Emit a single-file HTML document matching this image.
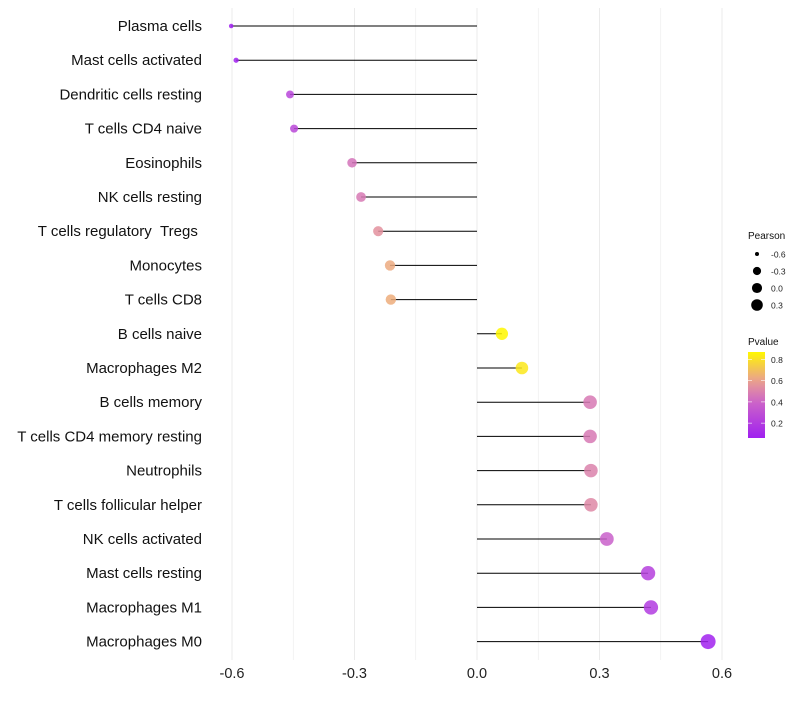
<!DOCTYPE html>
<html><head><meta charset="utf-8"><style>
body{margin:0;background:#fff;font-family:"Liberation Sans",sans-serif}
svg text{font-family:"Liberation Sans",sans-serif}
</style></head><body>
<svg id="c" width="800" height="700"></svg>
<script>
const categories=["Plasma cells","Mast cells activated","Dendritic cells resting","T cells CD4 naive","Eosinophils","NK cells resting","T cells regulatory\u00a0\u00a0Tregs\u00a0","Monocytes","T cells CD8","B cells naive","Macrophages M2","B cells memory","T cells CD4 memory resting","Neutrophils","T cells follicular helper","NK cells activated","Mast cells resting","Macrophages M1","Macrophages M0"];
const pearson=[-0.602,-0.59,-0.458,-0.448,-0.306,-0.284,-0.242,-0.213,-0.211,0.061,0.110,0.277,0.277,0.279,0.279,0.318,0.419,0.426,0.566];
const pvalue=[0.06,0.07,0.25,0.26,0.45,0.47,0.55,0.63,0.64,0.87,0.82,0.47,0.47,0.5,0.52,0.38,0.22,0.2,0.07];
const xTicks=[-0.6,-0.3,0,0.3,0.6];
const sizeTicks=[-0.6,-0.3,0.0,0.3];
const pTicks=[0.2,0.4,0.6,0.8];
const NS="http://www.w3.org/2000/svg",svg=document.getElementById('c');
function el(t,a,p){const e=document.createElementNS(NS,t);for(const k in a)e.setAttribute(k,a[k]);(p||svg).appendChild(e);return e;}
const x=v=>477+v*408.3;
const y=i=>26+i*34.2;
const r=v=>2+5.5*Math.sqrt(Math.max(0,v+0.605)/1.17);
const stops=[[0.06,[160,32,240]],[0.4,[204,100,200]],[0.6,[234,160,144]],[0.87,[255,247,0]]];
function col(p){if(p<=stops[0][0])return 'rgb('+stops[0][1]+')';for(let i=1;i<stops.length;i++){if(p<=stops[i][0]){const a=stops[i-1],b=stops[i],t=(p-a[0])/(b[0]-a[0]);return 'rgb('+a[1].map((c,j)=>Math.round(c+(b[1][j]-c)*t))+')';}}return 'rgb('+stops[3][1]+')';}
for(let k=-4;k<=4;k++){const v=k*0.15;const g=el('line',{x1:x(v),x2:x(v),y1:8,y2:660,stroke:'#ebebeb','stroke-width':k%2==0?1:0.6});}
xTicks.forEach(v=>{const t=el('text',{x:x(v),y:678,'text-anchor':'middle','font-size':14.5,fill:'#222'});t.textContent=v===0?'0.0':v.toFixed(1);});
categories.forEach((c,i)=>{
const t=el('text',{x:202,y:y(i)+5,'text-anchor':'end','font-size':15,fill:'#111'});t.textContent=c;
const l=el('line',{x1:x(0),x2:x(pearson[i]),y1:y(i),y2:y(i),stroke:'#000','stroke-width':1});
const d=el('circle',{cx:x(pearson[i]),cy:y(i),r:r(pearson[i]),fill:col(pvalue[i]),'fill-opacity':0.85});
});
const lt=el('text',{x:748,y:239,'font-size':10,fill:'#111'});lt.textContent='Pearson';
sizeTicks.forEach((v,i)=>{const cy=254+i*17;const c=el('circle',{cx:757,cy:cy,r:r(v)*0.85,fill:'#000'});
const t=el('text',{x:771,y:cy+3.5,'font-size':8.5,fill:'#222'});t.textContent=v.toFixed(1);});
const pt=el('text',{x:748,y:345,'font-size':10,fill:'#111'});pt.textContent='Pvalue';
const defs=el('defs',{});const lg=el('linearGradient',{id:'g',x1:0,y1:1,x2:0,y2:0},defs);
for(let k=0;k<=10;k++){const p=0.06+k*0.081;el('stop',{offset:k/10,'stop-color':col(p)},lg);}
const bar=el('rect',{x:748,y:352,width:17,height:86,fill:'url(#g)'});
const py=p=>438-(p-0.06)/(0.87-0.06)*86;
pTicks.forEach(p=>{el('line',{x1:748,x2:752,y1:py(p),y2:py(p),stroke:'#fff','stroke-width':0.6});el('line',{x1:761,x2:765,y1:py(p),y2:py(p),stroke:'#fff','stroke-width':0.6});
const t=el('text',{x:771,y:py(p)+3.5,'font-size':8.5,fill:'#222'});t.textContent=p.toFixed(1);});
</script>
</body></html>
